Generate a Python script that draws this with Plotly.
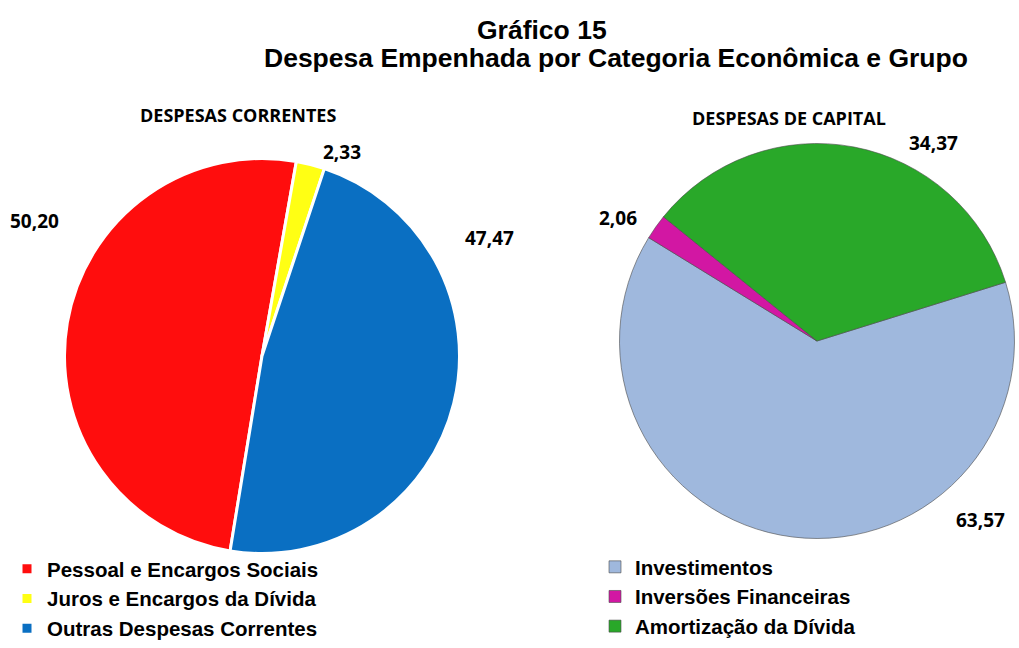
import plotly.graph_objects as go

# Despesas correntes (% do total empenhado)
correntes_labels = ["Pessoal e Encargos Sociais", "Juros e Encargos da Dívida", "Outras Despesas Correntes"]
correntes_values = [50.20, 2.33, 47.47]
correntes_colors = ["#FF0D0D", "#FFFF14", "#0A6FC2"]

# Despesas de capital (% do total empenhado)
capital_labels = ["Investimentos", "Inversões Financeiras", "Amortização da Dívida"]
capital_values = [63.57, 2.06, 34.37]
capital_colors = ["#9FB8DD", "#D217A3", "#29A829"]

W, H = 1019, 648


def domain(cx, cy, d):
    """Pie domain (paper coords) for a circle of diameter d centred at pixel (cx, cy)."""
    r = d / 2
    return dict(x=[(cx - r) / W, (cx + r) / W], y=[1 - (cy + r) / H, 1 - (cy - r) / H])


def br(v):
    return f"{v:.2f}".replace(".", ",")


def label(px, py, text, font):
    return dict(x=px / W, y=1 - py / H, text=text, showarrow=False,
                xref="paper", yref="paper", xanchor="center", yanchor="middle", font=font)


fig = go.Figure()

fig.add_trace(go.Pie(
    labels=correntes_labels, values=correntes_values, sort=False,
    direction="clockwise", rotation=189.3,
    marker=dict(colors=correntes_colors, line=dict(color="white", width=3)),
    textinfo="none", hoverinfo="label+value",
    domain=domain(262, 356, 395), legend="legend",
))

fig.add_trace(go.Pie(
    labels=capital_labels, values=capital_values, sort=False,
    direction="clockwise", rotation=72.7,
    marker=dict(colors=capital_colors, line=dict(color="#4a4a4a", width=0.6)),
    textinfo="none", hoverinfo="label+value",
    domain=domain(817, 341, 395), legend="legend2",
))

num_font = dict(family="Open Sans", size=19, color="black", weight="bold")

# value labels placed outside each slice
correntes_pos = [(34, 221), (342, 152), (489, 238)]
capital_pos = [(980, 520), (618, 218), (933, 143)]

annotations = []
for v, (px, py) in zip(correntes_values, correntes_pos):
    annotations.append(label(px, py, br(v), num_font))
for v, (px, py) in zip(capital_values, capital_pos):
    annotations.append(label(px, py, br(v), num_font))

sub_font = dict(family="Open Sans", size=18, color="black", weight="bold")
title_font = dict(family="Liberation Sans", size=26.5, color="black", weight="bold")
annotations += [
    label(238, 115, "DESPESAS CORRENTES", sub_font),
    label(789, 118, "DESPESAS DE CAPITAL", sub_font),
    label(542, 30, "Gráfico 15", title_font),
    label(616, 58, "Despesa Empenhada por Categoria Econômica e Grupo", title_font),
]

leg_font = dict(family="Liberation Sans", size=20.5, color="black", weight="bold")

fig.update_layout(
    width=W, height=H,
    margin=dict(l=0, r=0, t=0, b=0),
    paper_bgcolor="white",
    plot_bgcolor="white",
    annotations=annotations,
    legend=dict(x=7 / W, y=0, xanchor="left", yanchor="bottom",
                font=leg_font, bgcolor="rgba(0,0,0,0)", traceorder="normal"),
    legend2=dict(x=595 / W, y=1 - 547 / H, xanchor="left", yanchor="top",
                 font=leg_font, bgcolor="rgba(0,0,0,0)", traceorder="normal"),
)

fig.write_html("out.html")
